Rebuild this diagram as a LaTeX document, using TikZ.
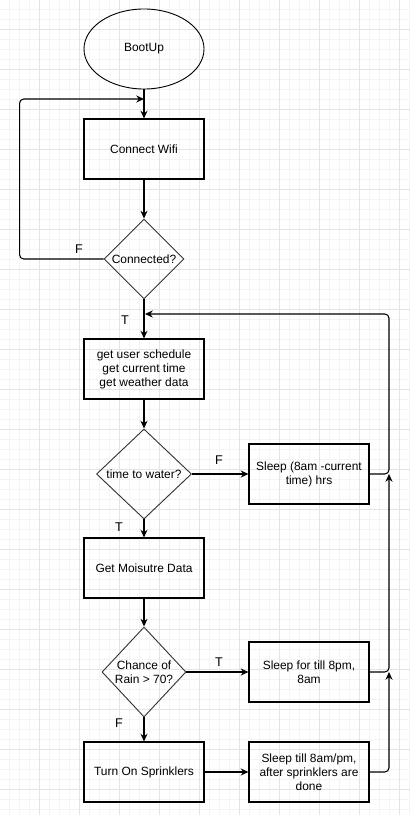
\documentclass[tikz,border=0pt]{standalone}
\usepackage{fontspec}
\setmainfont{Liberation Sans}
\usetikzlibrary{
  positioning,
  arrows.meta,
  shapes.geometric
}
\definecolor{gridmajor}{HTML}{E4E4E4}
\definecolor{gridminor}{HTML}{F4F4F4}

\begin{document}
\begin{tikzpicture}[x=0.025cm, y=-0.025cm,
  every node/.style={font=\fontsize{8.5}{10}\selectfont},
  term/.style={draw, line width=0.65pt, ellipse, minimum width=3cm, minimum height=2cm, inner sep=0pt},
  proc/.style={draw, line width=0.75pt, rectangle, minimum width=3cm, minimum height=1.5cm, align=center, inner sep=0pt},
  decide/.style={draw=black!80, line width=0.65pt, diamond, aspect=1, inner sep=0pt, align=center},
  flow/.style={line width=0.75pt, -{Stealth[length=5.5pt, width=5pt]}, rounded corners=3pt},
  lbl/.style={font=\fontsize{9}{10}\selectfont}
]
  % Background and grid
  \fill[white] (0,0) rectangle (410,815);
  \useasboundingbox (0,0) rectangle (410,815);
  \foreach \gx in {9,19,...,409} \draw[gridminor, line width=0.5pt] (\gx,0) -- (\gx,815);
  \foreach \gy in {9,19,...,809} \draw[gridminor, line width=0.5pt] (0,\gy) -- (410,\gy);
  \foreach \gx in {39,79,...,399} \draw[gridmajor, line width=0.6pt] (\gx,0) -- (\gx,815);
  \foreach \gy in {29,69,...,789} \draw[gridmajor, line width=0.6pt] (0,\gy) -- (410,\gy);

  % Main column
  \node[term] (boot) at (144,49) {BootUp};
  \node[proc] (wifi) at (144,149) {Connect Wifi};
  \node[decide, minimum width=2cm, minimum height=2cm] (conn) at (144,259) {Connected?};
  \node[proc] (fetch) at (144,369) {get user schedule\\get current time\\get weather data};
  \node[decide, minimum width=2.375cm, minimum height=2.25cm] (water) at (144,474) {time to water?};
  \node[proc] (moist) at (144,568) {Get Moisutre Data};
  \node[decide, minimum width=2.1cm, minimum height=2.25cm] (rain) at (144,672) {Chance of\\Rain > 70?};
  \node[proc] (spray) at (144,772) {Turn On Sprinklers};

  % Sleep boxes
  \node[proc] (sleepA) at (309,474) {Sleep (8am -current\\time) hrs};
  \node[proc] (sleepB) at (309,672) {Sleep for till 8pm,\\8am};
  \node[proc] (sleepC) at (309,772) {Sleep till 8am/pm,\\after sprinklers are\\done};

  % Junction points
  \coordinate (loopin) at (144,99);
  \coordinate (backin) at (145,314);
  \coordinate (jA) at (389,474);
  \coordinate (jB) at (389,672);

  % Connectors
  \draw[flow] (boot) -- (wifi);
  \draw[flow] (wifi) -- (conn);
  \draw[flow] (conn.west) -- ++(-84,0) |- (loopin);
  \draw[flow] (conn) -- (fetch);
  \draw[flow] (fetch) -- (water);
  \draw[flow] (water) -- (sleepA);
  \draw[flow] (water) -- (moist);
  \draw[flow] (moist) -- (rain);
  \draw[flow] (rain) -- (sleepB);
  \draw[flow] (rain) -- (spray);
  \draw[flow] (spray) -- (sleepC);
  \draw[flow] (sleepA.east) -- (jA) |- (backin);
  \draw[flow] (sleepB.east) -- (jB) -- (jA);
  \draw[flow] (sleepC.east) -| (jB);

  % Branch labels
  \node[lbl] (fConn) at (79,249) {F};
  \node[lbl] (tConn) at (125,320) {T};
  \node[lbl] (fWater) at (219,460) {F};
  \node[lbl] (tWater) at (119,527) {T};
  \node[lbl] (tRain) at (219,662) {T};
  \node[lbl] (fRain) at (119,723) {F};
\end{tikzpicture}
\end{document}
